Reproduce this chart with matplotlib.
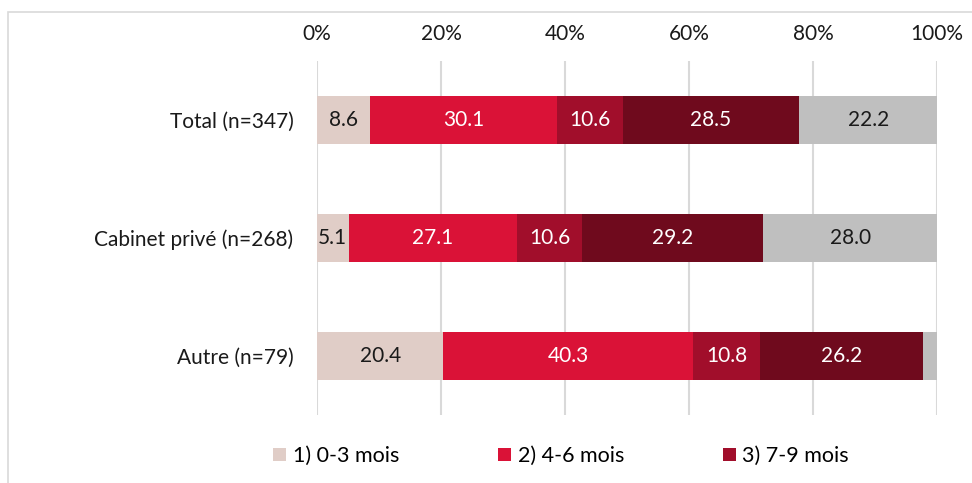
import numpy as np
import matplotlib
matplotlib.use("Agg")
import matplotlib.pyplot as plt
from matplotlib.patches import Rectangle

plt.rcParams['font.family'] = ['Lato', 'DejaVu Sans']

categories = ['Total (n=347)', 'Cabinet privé (n=268)', 'Autre (n=79)']
series_names = ['1) 0-3 mois', '2) 4-6 mois', '3) 7-9 mois', '4) 10-12 mois', '5) Autre']
values = [
    [8.6, 5.1, 20.4],
    [30.1, 27.1, 40.3],
    [10.6, 10.6, 10.8],
    [28.5, 29.2, 26.2],
    [22.2, 28.0, 2.3],
]
show_label = [
    [True, True, True],
    [True, True, True],
    [True, True, True],
    [True, True, True],
    [True, True, False],
]
colors = ['#E0CDC7', '#DA1237', '#A10E2B', '#6F0A1D', '#BFBFBF']
text_colors = ['#1a1a1a', 'white', 'white', 'white', '#1a1a1a']
xticks = [0, 20, 40, 60, 80, 100]

fig = plt.figure(figsize=(9.72, 4.83), dpi=100)
ax = fig.add_axes([317 / 972, 1 - 415 / 483, 620 / 972, 354 / 483])

# outer chart frame
fig.patches.append(Rectangle((8 / 972, -0.1), 1.1, (483 - 12) / 483 + 0.1,
                             transform=fig.transFigure, fill=False,
                             edgecolor='#D9D9D9', lw=1.2))

y = np.arange(len(categories))
left = np.zeros(len(categories))
bars = []
for i, vals in enumerate(values):
    b = ax.barh(y, vals, left=left, height=0.4, color=colors[i],
                label=series_names[i], zorder=3)
    bars.append(b)
    for j, v in enumerate(vals):
        if show_label[i][j]:
            ax.text(left[j] + v / 2, y[j], f'{v:.1f}', ha='center', va='center',
                    color=text_colors[i], fontsize=15, zorder=4)
    left += np.array(vals)

ax.set_xlim(0, 100)
ax.set_ylim(2.5, -0.5)
ax.set_xticks(xticks)
ax.set_xticklabels([f'{t}%' for t in xticks])
ax.xaxis.tick_top()
ax.set_yticks(y)
ax.set_yticklabels(categories)
ax.tick_params(axis='both', length=0, labelsize=15, colors='#1a1a1a')
ax.tick_params(axis='x', pad=12)
ax.tick_params(axis='y', pad=17)
ax.grid(axis='x', color='#D9D9D9', lw=1.5, zorder=0)
for s in ax.spines.values():
    s.set_visible(False)

handles = [bars[0], bars[1], bars[2]]
fig.legend(handles, series_names[:3], loc='center left',
           bbox_to_anchor=(254 / 972, 1 - 456 / 483), ncol=3, frameon=False,
           fontsize=15.5, handlelength=0.6, handleheight=0.6,
           handletextpad=0.3, columnspacing=4.6)

fig.savefig('out.png', dpi=100)
